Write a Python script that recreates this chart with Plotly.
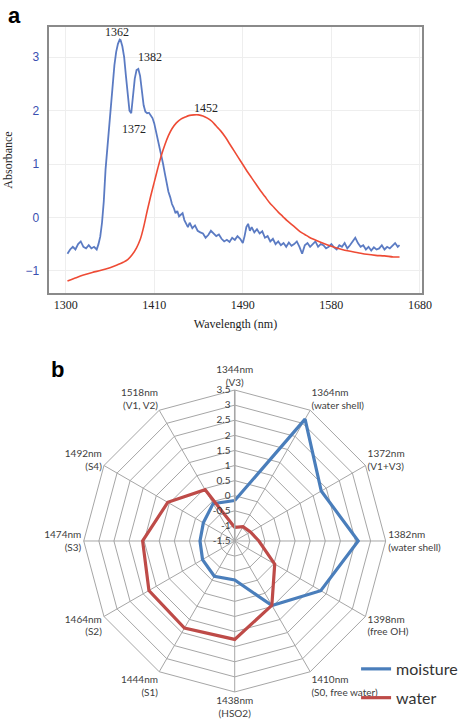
import plotly.graph_objects as go

# ---------------- panel a data ----------------
blue_wl = [1302,1305,1308,1311,1314,1317,1320,1323,1326,1329,1332,1335,1337,1339,1341,1343,1345,1347,1349,1351,
           1353,1355,1357,1359,1361,1362,1364,1366,1368,1370,1372,1374,1376,1378,1380,1382,1384,1386,1388,1390,
           1392,1394,1396,1398,1400,1402,1404,1406,1408,1410,1412,1414,1416,1418,1420,1422,1424,1426,1428,1430,
           1432,1434,1436,1438,1440,1443,1446,1449,1452,1455,1458,1461,1464,1467,1470,1473,1476,1479,1482,1485,
           1488,1491,1494,1497,1500,1502,1504,1506,1508,1510,1513,1516,1519,1522,1525,1528,1531,1534,1537,1540,
           1543,1546,1549,1552,1555,1558,1561,1564,1567,1570,1573,1576,1579,1582,1585,1588,1591,1594,1597,1600,
           1603,1606,1609,1612,1615,1618,1621,1624,1627,1630,1633,1636,1639,1642,1645,1648,1651,1654,1657,1660,
           1663,1666,1669,1672,1675,1677]
blue_abs = [-0.68,-0.60,-0.55,-0.60,-0.50,-0.45,-0.55,-0.58,-0.52,-0.58,-0.55,-0.60,-0.50,-0.36,-0.10,0.30,0.90,1.30,1.75,2.10,
            2.50,2.85,3.10,3.25,3.33,3.32,3.20,3.00,2.65,2.30,2.00,1.95,2.25,2.60,2.76,2.78,2.65,2.35,2.10,1.98,
            1.95,1.96,1.90,1.86,1.76,1.62,1.48,1.33,1.15,1.00,0.82,0.62,0.48,0.38,0.25,0.18,0.08,0.12,0.02,0.05,
            0.08,-0.05,-0.12,-0.18,-0.10,-0.20,-0.15,-0.25,-0.28,-0.30,-0.38,-0.33,-0.25,-0.30,-0.35,-0.32,-0.40,-0.45,-0.42,-0.46,
            -0.38,-0.42,-0.35,-0.40,-0.48,-0.35,-0.18,-0.12,-0.25,-0.18,-0.28,-0.22,-0.30,-0.26,-0.38,-0.35,-0.45,-0.40,-0.50,-0.45,
            -0.52,-0.48,-0.55,-0.47,-0.53,-0.50,-0.45,-0.55,-0.68,-0.52,-0.48,-0.55,-0.50,-0.45,-0.55,-0.50,-0.52,-0.58,-0.55,-0.50,
            -0.56,-0.60,-0.52,-0.55,-0.48,-0.58,-0.52,-0.45,-0.38,-0.48,-0.55,-0.52,-0.60,-0.55,-0.62,-0.56,-0.60,-0.58,-0.52,-0.60,
            -0.55,-0.58,-0.52,-0.48,-0.55,-0.52]

red_wl = [1302,1310,1320,1330,1340,1350,1358,1365,1370,1375,1380,1384,1388,1392,1396,1400,1404,1408,1412,1416,
          1420,1425,1430,1435,1440,1445,1450,1455,1460,1465,1470,1475,1480,1485,1490,1495,1500,1505,1510,1515,
          1520,1525,1530,1535,1540,1545,1550,1555,1560,1565,1570,1575,1580,1590,1600,1610,1620,1630,1640,1650,
          1660,1670,1677]
red_abs = [-1.19,-1.14,-1.08,-1.03,-0.99,-0.94,-0.89,-0.84,-0.79,-0.70,-0.57,-0.42,-0.18,0.12,0.40,0.66,0.92,1.16,1.36,1.53,
           1.66,1.77,1.84,1.88,1.91,1.92,1.92,1.90,1.86,1.80,1.71,1.62,1.51,1.38,1.25,1.12,0.99,0.86,0.74,0.62,
           0.50,0.39,0.28,0.19,0.10,0.02,-0.06,-0.13,-0.20,-0.27,-0.32,-0.37,-0.41,-0.48,-0.54,-0.59,-0.63,-0.66,-0.69,-0.71,
           -0.72,-0.74,-0.74]

peak_labels = ["1362", "1382", "1372", "1452"]
peak_x = [1358, 1395, 1377, 1458]
peak_y = [3.47, 3.01, 1.66, 2.04]

x_tickvals = [1300, 1400, 1500, 1600, 1700]
x_ticktext = ["1300", "1410", "1490", "1580", "1680"]
y_tickvals = [-1, 0, 1, 2, 3]
y_ticktext = ["\u22121", "0", "1", "2", "3"]

# ---------------- panel b data ----------------
categories = ["1344nm<br>(V3)", "1364nm<br>(water shell)", "1372nm<br>(V1+V3)", "1382nm<br>(water shell)",
              "1398nm<br>(free OH)", "1410nm<br>(S0, free water)", "1438nm<br>(HSO2)", "1444nm<br>(S1)",
              "1464nm<br>(S2)", "1474nm<br>(S3)", "1492nm<br>(S4)", "1518nm<br>(V1, V2)"]
moisture = [-0.16, 3.16, 1.81, 2.59, 1.79, 0.97, -0.21, -0.15, -0.27, -0.35, -0.30, -0.07]
water = [-1.05, -0.95, -0.90, -0.70, 0.03, 0.96, 1.76, 1.83, 1.78, 1.55, 1.06, 0.46]
r_tickvals = [-1.5, -1, -0.5, 0, 0.5, 1, 1.5, 2, 2.5, 3, 3.5]
r_ticktext = ["-1.5", "-1", "-0.5", "0", "0.5", "1", "1.5", "2", "2.5", "3", "3.5"]

fig = go.Figure()

fig.add_trace(go.Scatter(x=blue_wl, y=blue_abs, mode="lines",
                         line=dict(color="rgba(62,100,185,0.85)", width=1.8),
                         showlegend=False, xaxis="x", yaxis="y"))
fig.add_trace(go.Scatter(x=red_wl, y=red_abs, mode="lines", line_shape="spline",
                         line=dict(color="#ee4b35", width=1.6),
                         showlegend=False, xaxis="x", yaxis="y"))

for t, xv, yv in zip(peak_labels, peak_x, peak_y):
    fig.add_annotation(x=xv, y=yv, xref="x", yref="y", text=t, showarrow=False,
                       font=dict(family="Liberation Serif", size=12, color="#222"))

fig.add_trace(go.Scatterpolar(r=moisture + moisture[:1], theta=categories + categories[:1],
                              mode="lines", name="moisture", legendgroup="m",
                              line=dict(color="#4a7ebb", width=3.2), subplot="polar"))
fig.add_trace(go.Scatterpolar(r=water + water[:1], theta=categories + categories[:1],
                              mode="lines", name="water", legendgroup="w",
                              line=dict(color="#be4b48", width=3.2), subplot="polar"))

fig.update_layout(
    width=464, height=722,
    margin=dict(l=0, r=0, t=0, b=0, autoexpand=False),
    paper_bgcolor="white", plot_bgcolor="white",
    xaxis=dict(domain=[0.1063, 0.9088], anchor="y", range=[1281.5, 1702],
               tickvals=x_tickvals, ticktext=x_ticktext,
               tickfont=dict(family="Liberation Serif", size=12, color="#222"),
               showgrid=True, gridcolor="#eeeeee", zeroline=False,
               showline=True, linecolor="#8a8a8a", linewidth=1.5, mirror=True,
               ticks="", title=dict(text="Wavelength (nm)", standoff=8,
                                    font=dict(family="Liberation Serif", size=12, color="#222"))),
    yaxis=dict(domain=[0.5938, 0.963], anchor="x", range=[-1.42, 3.57],
               tickvals=y_tickvals, ticktext=y_ticktext,
               tickfont=dict(family="Liberation Sans", size=12, color="#3a4fb0"),
               showgrid=True, gridcolor="#eeeeee", zeroline=False,
               showline=True, linecolor="#8a8a8a", linewidth=1.5, mirror=True,
               ticks="", ticklabelstandoff=6,
               title=dict(text="Absorbance", standoff=10,
                          font=dict(family="Liberation Serif", size=12, color="#222"))),
    polar=dict(
        domain=dict(x=[0.1804, 0.8313], y=[0.0416, 0.4598]),
        bgcolor="white",
        angularaxis=dict(type="category", direction="clockwise", rotation=90,
                         showline=True, linecolor="#a6a6a6", linewidth=1,
                         gridcolor="#a6a6a6", gridwidth=1, ticks="",
                         tickfont=dict(family="Lato", size=10, color="#404040")),
        radialaxis=dict(range=[-1.5, 3.5], tickvals=r_tickvals, ticktext=r_ticktext,
                        angle=90, side="counterclockwise", showline=True,
                        linecolor="#a6a6a6", linewidth=1.5, gridcolor="#a6a6a6", gridwidth=1,
                        ticks="", tickangle=90,
                        tickfont=dict(family="Lato", size=10, color="#404040")),
        gridshape="linear",
    ),
    legend=dict(x=0.998, y=0.097, xanchor="right", yanchor="top",
                font=dict(family="Lato", size=16, color="#333"),
                bgcolor="rgba(0,0,0,0)", tracegroupgap=5, itemwidth=30),
    annotations=list(fig.layout.annotations) + [
        dict(x=0.032, y=0.978, xref="paper", yref="paper", text="<b>a</b>", showarrow=False,
             xanchor="center", yanchor="middle",
             font=dict(family="Liberation Sans", size=22, color="black")),
        dict(x=0.123, y=0.488, xref="paper", yref="paper", text="<b>b</b>", showarrow=False,
             xanchor="center", yanchor="middle",
             font=dict(family="Liberation Sans", size=22, color="black")),
    ],
)

fig.write_html("out.html", config={"displayModeBar": False},
               post_script="document.body.style.margin='0';document.body.style.padding='0';")
